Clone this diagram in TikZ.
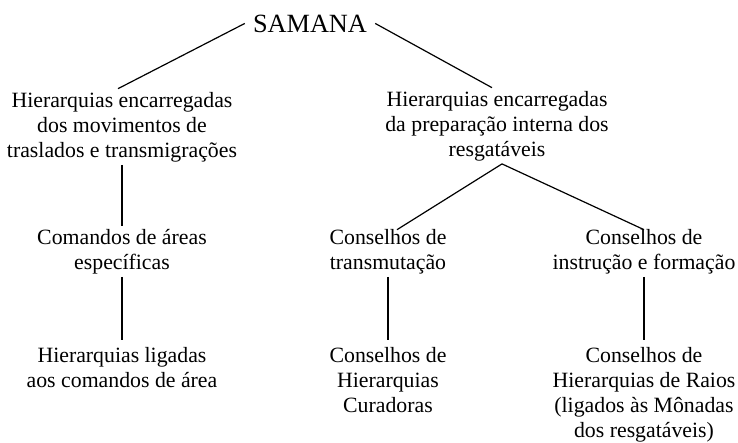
\documentclass[tikz,border=0pt]{standalone}
\usepackage{fontspec}
\setmainfont{Liberation Serif}
\usetikzlibrary{positioning}

\begin{document}
\begin{tikzpicture}[x=1pt, y=-1pt,
    lbl/.style={align=center, anchor=base, inner sep=3pt, font=\fontsize{21.8}{25}\selectfont},
    link/.style={line width=1.2pt}]

      \useasboundingbox (0, 0) rectangle (738, 442);

      % the base of a node is the baseline of its last line
      \node [lbl, font=\fontsize{26.3}{30}\selectfont, inner xsep=8pt] (samana) at (310, 32) {SAMANA};

      \node [lbl] (mov) at (122, 157) {Hierarquias encarregadas\\dos movimentos de\\traslados e transmigrações};
      \node [lbl] (prep) at (497, 156) {Hierarquias encarregadas\\da preparação interna dos\\resgatáveis};

      \node [lbl] (areas) at (122, 269) {Comandos de áreas\\específicas};
      \node [lbl] (trans) at (388, 269) {Conselhos de\\transmutação};
      \node [lbl] (instr) at (644, 269) {Conselhos de\\instrução e formação};

      \node [lbl] (ligadas) at (122, 387) {Hierarquias ligadas\\aos comandos de área};
      \node [lbl] (curad) at (388, 412) {Conselhos de\\Hierarquias\\Curadoras};
      \node [lbl] (raios) at (644, 437) {Conselhos de\\Hierarquias de Raios\\(ligados às Mônadas\\dos resgatáveis)};

      \draw [link] (samana.west) -- ([xshift=-4pt]mov.north);
      \draw [link] (samana.east) -- ([xshift=-5pt]prep.north);

      \draw [link] (mov.south) -- (areas.north);
      \draw [link] ([xshift=5pt]prep.south) -- ([xshift=9pt, yshift=-4pt]trans.north);
      \draw [link] ([xshift=5pt]prep.south) -- ([yshift=-4pt]instr.north);

      \draw [link, shorten >=4pt] (areas.south) -- (ligadas.north);
      \draw [link, shorten >=4pt] (trans.south) -- (curad.north);
      \draw [link, shorten >=4pt] (instr.south) -- (raios.north);
    \end{tikzpicture}
\end{document}
